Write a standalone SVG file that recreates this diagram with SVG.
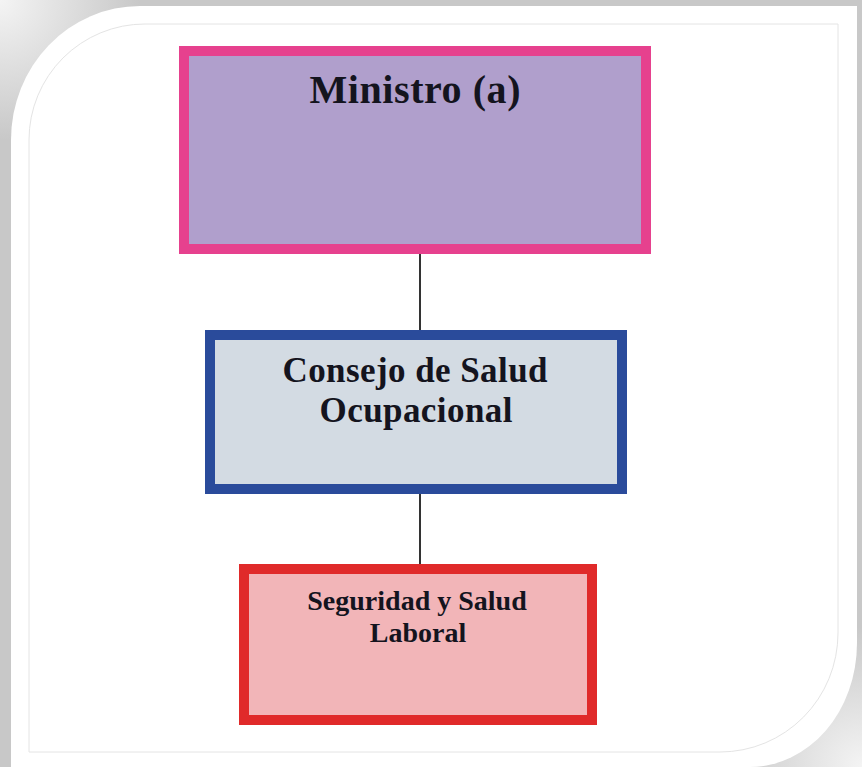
<svg xmlns="http://www.w3.org/2000/svg" width="862" height="767" viewBox="0 0 862 767">
<defs>
<radialGradient id="tl" cx="0" cy="0" r="140" gradientUnits="userSpaceOnUse">
<stop offset="0" stop-color="#f4f4f4"/>
<stop offset="1" stop-color="#c8c8c8"/>
</radialGradient>
<radialGradient id="br" cx="862" cy="767" r="140" gradientUnits="userSpaceOnUse">
<stop offset="0" stop-color="#f4f4f4"/>
<stop offset="1" stop-color="#c8c8c8"/>
</radialGradient>
<style>
.box{stroke-width:10}
.t{font-family:"Liberation Serif","Times New Roman",serif;font-weight:bold;fill:#14141e;text-anchor:middle}
.conn{stroke:#333;stroke-width:2;fill:none}
</style>
</defs>
<g id="frame">
<rect x="0" y="0" width="862" height="767" fill="#c8c8c8"/>
<rect x="0" y="0" width="160" height="160" fill="url(#tl)"/>
<rect x="702" y="607" width="160" height="160" fill="url(#br)"/>
<path d="M11,140 A129,134 0 0 1 140,6 L857,6 L857,643 A107,124 0 0 1 750,767 L11,767 Z" fill="#ffffff"/>
<path d="M29,140 A116,116 0 0 1 145,24 L838,24 L838,633 A118,119 0 0 1 720,752 L29,752 Z" fill="none" stroke="#e4e4e4" stroke-width="1"/>
</g>
<g id="connectors">
<line class="conn" x1="420" y1="254" x2="420" y2="332"/>
<line class="conn" x1="420" y1="494" x2="420" y2="566"/>
</g>
<g id="ministro">
<rect class="box" x="184" y="51" width="462" height="198" fill="#b09fcc" stroke="#e6418e"/>
<text class="t" x="415" y="103" font-size="40" textLength="211">Ministro (a)</text>
</g>
<g id="consejo">
<rect class="box" x="210" y="335" width="412" height="154" fill="#d3dbe3" stroke="#2a4b9b"/>
<text class="t" x="415" y="382" font-size="35" textLength="265">Consejo de Salud</text>
<text class="t" x="416" y="422" font-size="35" textLength="193">Ocupacional</text>
</g>
<g id="seguridad">
<rect class="box" x="244" y="569" width="348" height="151" fill="#f2b5b8" stroke="#e02a2a"/>
<text class="t" x="417" y="610" font-size="28">Seguridad y Salud</text>
<text class="t" x="418" y="642" font-size="28">Laboral</text>
</g>
</svg>
